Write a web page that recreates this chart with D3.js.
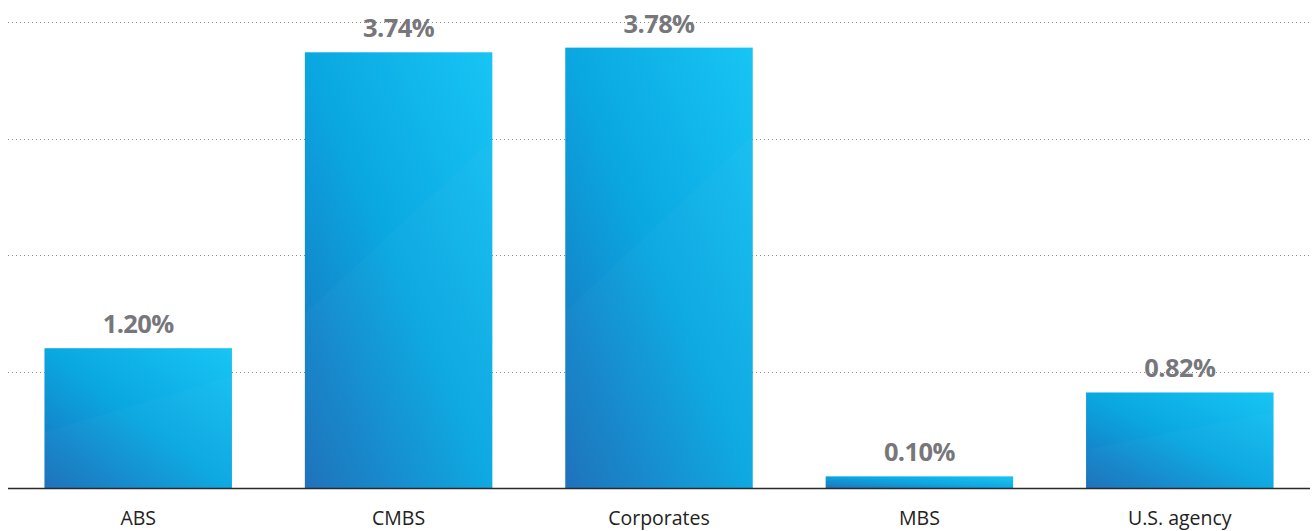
<!DOCTYPE html>
<html><head><meta charset="utf-8">
<script src="https://cdn.jsdelivr.net/npm/d3@7"></script>
<style>
html,body{margin:0;padding:0;background:#fff;}
svg{display:block;font-family:"Open Sans",Lato,sans-serif;}
</style></head>
<body><svg id="c" width="1312" height="531"></svg>
<script>
const categories = ["ABS","CMBS","Corporates","MBS","U.S. agency"];
const values = [1.20, 3.74, 3.78, 0.10, 0.82];
const valueLabels = ["1.20%","3.74%","3.78%","0.10%","0.82%"];
const gridTicks = [1,2,3,4];

(function(){
const svg = d3.select("#c");
const left = 8, right = 1310, base = 488, topY = 22;

const x = d3.scaleBand().domain(categories).range([left,right]).paddingInner(0.28).paddingOuter(0.14);
const y = d3.scaleLinear().domain([0,4]).range([base, topY]);

const defs = svg.append("defs");
const g = defs.append("linearGradient").attr("id","bg").attr("x1","0").attr("y1","1").attr("x2","1").attr("y2","0");
g.append("stop").attr("offset","0").attr("stop-color","#1a6fba");
g.append("stop").attr("offset","0.5").attr("stop-color","#0aa7e1");
g.append("stop").attr("offset","1").attr("stop-color","#18c5f4");

// gridlines
svg.append("g").selectAll("line").data(gridTicks).join("line")
  .attr("x1",left).attr("x2",right)
  .attr("y1",d=>Math.round(y(d))+0.5).attr("y2",d=>Math.round(y(d))+0.5)
  .attr("stroke","#8a8a8a").attr("stroke-width",1).attr("stroke-dasharray","1,3");

// bars
svg.append("g").selectAll("rect").data(values).join("rect")
  .attr("x",(d,i)=>x(categories[i]))
  .attr("width",x.bandwidth())
  .attr("y",d=>y(d))
  .attr("height",d=>base-y(d))
  .attr("fill","url(#bg)");

// subtle lighter wedge overlay
svg.append("g").selectAll("path").data(values).join("path")
  .attr("d",(d,i)=>{
    const x0=x(categories[i]), w=x.bandwidth(), y0=y(d), h=base-y0;
    return `M${x0},${y0+h*0.6}L${x0+w},${y0+h*0.2}L${x0+w},${base}L${x0},${base}Z`;
  })
  .attr("fill","#ffffff").attr("opacity",0.025);

// baseline
svg.append("line").attr("x1",left).attr("x2",right).attr("y1",base+0.5).attr("y2",base+0.5)
  .attr("stroke","#2a2a2a").attr("stroke-width",1.3);

// value labels
svg.append("g").selectAll("text").data(values).join("text")
  .attr("x",(d,i)=>x(categories[i])+x.bandwidth()/2)
  .attr("y",d=>y(d)-15)
  .attr("text-anchor","middle")
  .attr("font-size",25.5).attr("font-weight",700).attr("fill","#77777b")
  .attr("letter-spacing",-0.6)
  .text((d,i)=>valueLabels[i]);

// category axis
const ax = svg.append("g").attr("transform",`translate(0,${base})`)
  .call(d3.axisBottom(x).tickSize(0));
ax.select(".domain").remove();
ax.selectAll("text").attr("y",37).attr("dy",0)
  .attr("font-size",19.5).attr("font-weight",500).attr("fill","#222")
  .attr("font-family","'Open Sans',Lato,sans-serif");
})();
</script></body></html>
